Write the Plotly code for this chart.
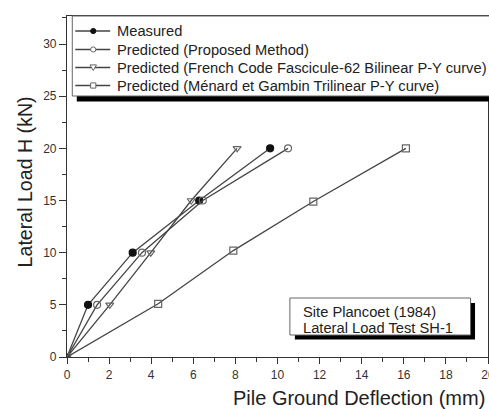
import plotly.graph_objects as go

# ---- data ----
load_kN = [0, 5, 10, 15, 20]
measured_mm = [0, 1.0, 3.12, 6.28, 9.65]
proposed_mm = [0, 1.43, 3.56, 6.45, 10.5]
french_mm = [0, 2.03, 3.98, 5.9, 8.08]
menard_mm = [0, 4.33, 7.9, 11.7, 16.1]
menard_load = [0, 5.1, 10.2, 14.9, 20]

series_names = [
    "Measured",
    "Predicted (Proposed Method)",
    "Predicted (French Code Fascicule-62 Bilinear P-Y curve)",
    "Predicted (Ménard et Gambin Trilinear P-Y curve)",
]
series_x = [measured_mm, proposed_mm, french_mm, menard_mm]
series_y = [load_kN, load_kN, load_kN, menard_load]
symbols = ["circle", "circle-open", "triangle-down-open", "square-open"]
marker_colors = ["#111", "#666", "#666", "#666"]
note_lines = ["Site Plancoet (1984)", "Lateral Load Test SH-1"]

LINE = "#444"
fig = go.Figure()
for name, xs, ys, sym, mc in zip(series_names, series_x, series_y, symbols, marker_colors):
    fig.add_trace(go.Scatter(
        x=xs, y=ys, name=name, mode="lines+markers", showlegend=False,
        line=dict(color=LINE, width=1.3),
        marker=dict(symbol=sym, size=7, color=mc, line=dict(color=mc, width=1.2)),
    ))

# ---- geometry (page pixels; body margin removed by post_script) ----
W, H = 489, 409
PL, PR, PT, PB = 66.7, 488.5, 16, 357
ml, mr, mt, mb = PL, W - PR, PT, H - PB


def px_x(p):
    return (p - PL) / (PR - PL)


def px_y(p):
    return (PB - p) / (PB - PT)


font = "Liberation Sans, Arial, sans-serif"
shapes = []
annotations = []

# legend box with drop shadow
shapes.append(dict(type="rect", xref="paper", yref="paper",
                   x0=px_x(76.5), x1=1.05, y0=px_y(101.5), y1=px_y(90),
                   fillcolor="black", line=dict(width=0), layer="above"))
shapes.append(dict(type="rect", xref="paper", yref="paper",
                   x0=px_x(72), x1=1.05, y0=px_y(96), y1=px_y(16),
                   fillcolor="white", line=dict(color="#666", width=1), layer="above"))

row_y = [31, 49.5, 67.5, 85.5]
gx0, gx1, gxm, tx = 75, 110, 93, 115
for name, sym, mc, ry in zip(series_names, symbols, marker_colors, row_y):
    shapes.append(dict(type="line", xref="paper", yref="paper",
                       x0=px_x(gx0), x1=px_x(gx1), y0=px_y(ry), y1=px_y(ry),
                       line=dict(color=LINE, width=1.3), layer="above"))
    r = 2.6
    if sym.startswith("circle"):
        fill = mc if sym == "circle" else "white"
        shapes.append(dict(type="circle", xref="paper", yref="paper",
                           x0=px_x(gxm - r), x1=px_x(gxm + r),
                           y0=px_y(ry + r), y1=px_y(ry - r),
                           fillcolor=fill, line=dict(color=mc, width=1), layer="above"))
    elif sym.startswith("square"):
        shapes.append(dict(type="rect", xref="paper", yref="paper",
                           x0=px_x(gxm - r), x1=px_x(gxm + r),
                           y0=px_y(ry + r), y1=px_y(ry - r),
                           fillcolor="white", line=dict(color=mc, width=1), layer="above"))
    else:
        path = "M {} {} L {} {} L {} {} Z".format(
            px_x(gxm - 3.2), px_y(ry - 2.6), px_x(gxm + 3.2), px_y(ry - 2.6),
            px_x(gxm), px_y(ry + 3.0))
        shapes.append(dict(type="path", xref="paper", yref="paper", path=path,
                           fillcolor="white", line=dict(color=mc, width=1), layer="above"))
    annotations.append(dict(xref="paper", yref="paper", x=px_x(tx), y=px_y(ry),
                            xanchor="left", yanchor="middle", showarrow=False,
                            text=name, font=dict(size=14.7, family=font, color="#222")))

# note box with drop shadow
shapes.append(dict(type="rect", xref="paper", yref="paper",
                   x0=px_x(295), x1=px_x(475.5), y0=px_y(339.5), y1=px_y(303),
                   fillcolor="black", line=dict(width=0), layer="above"))
shapes.append(dict(type="rect", xref="paper", yref="paper",
                   x0=px_x(290), x1=px_x(471), y0=px_y(335), y1=px_y(298),
                   fillcolor="white", line=dict(color="#666", width=1), layer="above"))
for line_text, ly in zip(note_lines, [312, 328]):
    annotations.append(dict(xref="paper", yref="paper", x=px_x(301.5), y=px_y(ly),
                            xanchor="left", yanchor="middle", showarrow=False,
                            text=line_text, font=dict(size=14.7, family=font, color="#222")))

# axis titles
annotations.append(dict(xref="paper", yref="paper", x=px_x(359), y=px_y(398),
                        xanchor="center", yanchor="middle", showarrow=False,
                        text="Pile Ground Deflection (mm)",
                        font=dict(size=20, family=font, color="#222")))
annotations.append(dict(xref="paper", yref="paper", x=px_x(25), y=px_y(182),
                        xanchor="center", yanchor="middle", showarrow=False, textangle=-90,
                        text="Lateral Load H (kN)",
                        font=dict(size=19.6, family=font, color="#222")))

fig.update_layout(
    width=W, height=H,
    margin=dict(l=ml, r=mr, t=mt, b=mb),
    paper_bgcolor="white", plot_bgcolor="white",
    font=dict(family=font, color="#222"),
    showlegend=False,
    xaxis=dict(
        range=[0, 20], dtick=2, tick0=0, automargin=False,
        showline=True, linecolor="#333", linewidth=1.2, mirror=True,
        ticks="outside", ticklen=6, tickcolor="#333",
        minor=dict(ticks="outside", ticklen=4, dtick=1, tickcolor="#333"),
        showgrid=False, zeroline=False, ticklabeloverflow="allow",
        tickfont=dict(size=12, color="#333"),
    ),
    yaxis=dict(
        range=[0, (PB - PT) / ((PB - 44) / 30)], dtick=5, tick0=0, automargin=False,
        showline=True, linecolor="#333", linewidth=1.2, mirror=True,
        ticks="outside", ticklen=7, tickcolor="#333",
        minor=dict(ticks="outside", ticklen=4, dtick=2.5, tickcolor="#333"),
        showgrid=False, zeroline=False,
        tickfont=dict(size=12, color="#333"),
    ),
    shapes=shapes,
    annotations=annotations,
)

fig.write_html(
    "out.html",
    config={"displayModeBar": False},
    post_script="document.body.style.margin='0';document.body.style.overflow='hidden';",
)
